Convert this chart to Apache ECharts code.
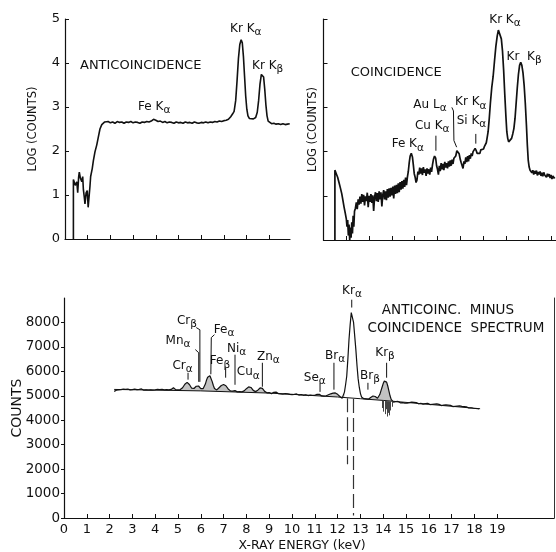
<!DOCTYPE html>
<html>
<head>
<meta charset="utf-8">
<script src="https://cdn.jsdelivr.net/npm/echarts@6/dist/echarts.min.js"></script>
<style>
html, body { margin: 0; padding: 0; background: #fff; }
#main { width: 556px; height: 552px; }
</style>
</head>
<body>
<div id="main"></div>
<script>
// top left: anticoincidence spectrum (channel units, log counts)
var antiU = [0.37, 0.37, 0.45, 0.52, 0.56, 0.60, 0.63, 0.68, 0.74, 0.78, 0.81, 0.85, 0.88, 0.93, 0.98, 1.02, 1.07, 1.10, 1.13, 1.20,
    1.25, 1.32, 1.40, 1.47, 1.54, 1.62, 1.69, 1.75,
    1.8, 1.9, 2.0, 2.1, 2.2, 2.3, 2.4, 2.5, 2.6, 2.7, 2.8, 2.9, 3.0, 3.1, 3.2, 3.3, 3.4, 3.5, 3.6, 3.7, 3.8, 3.9,
    4.0, 4.1, 4.2, 4.3, 4.4, 4.5, 4.6, 4.7, 4.8, 4.9, 5.0, 5.1, 5.2, 5.3, 5.4, 5.5, 5.6, 5.7, 5.8, 5.9,
    6.0, 6.1, 6.2, 6.3, 6.4, 6.5, 6.6, 6.7, 6.8, 6.9, 7.0, 7.1, 7.2, 7.3,
    7.38, 7.45, 7.52, 7.58, 7.64, 7.70, 7.76, 7.81, 7.86, 7.91, 7.96, 8.01, 8.06, 8.12, 8.2, 8.3, 8.4,
    8.47, 8.53, 8.59, 8.65, 8.70, 8.75, 8.80, 8.85, 8.90, 8.95, 9.0, 9.1, 9.2, 9.3, 9.4, 9.5, 9.6, 9.7, 9.8, 9.9];
var antiLog = [0, 1.35, 1.22, 1.30, 1.05, 1.40, 1.52, 1.38, 1.30, 1.42, 1.12, 0.95, 0.80, 1.05, 1.10, 0.72, 0.75, 1.20, 1.42, 1.60,
    1.78, 1.98, 2.14, 2.32, 2.50, 2.60, 2.64, 2.66,
    2.63, 2.67, 2.64, 2.66, 2.63, 2.67, 2.65, 2.66, 2.63, 2.66, 2.65, 2.67, 2.64, 2.66, 2.65, 2.63, 2.66, 2.65, 2.67, 2.66, 2.68, 2.72,
    2.70, 2.67, 2.68, 2.65, 2.67, 2.64, 2.66, 2.65, 2.63, 2.66, 2.64, 2.65, 2.63, 2.66, 2.64, 2.65, 2.63, 2.66, 2.64, 2.63,
    2.65, 2.64, 2.66, 2.64, 2.66, 2.65, 2.67, 2.66, 2.68, 2.67, 2.69, 2.70, 2.72, 2.78,
    2.84, 2.90, 3.15, 3.60, 4.10, 4.42, 4.53, 4.46, 4.15, 3.70, 3.25, 2.95, 2.80, 2.74, 2.72, 2.73, 2.76,
    2.88, 3.15, 3.52, 3.74, 3.78, 3.68, 3.40, 3.05, 2.80, 2.68, 2.64, 2.62, 2.63, 2.61, 2.62, 2.60, 2.62, 2.60, 2.61, 2.62];

// top right: coincidence spectrum
var coinU = [0.50, 0.50, 0.56, 0.62, 0.68, 0.74, 0.80, 0.85, 0.90, 0.95, 1.00, 1.03, 1.06, 1.09, 1.12, 1.15, 1.18, 1.21, 1.24, 1.27,
    1.30, 1.33, 1.36, 1.40, 1.44, 1.48, 1.52, 1.56, 1.60, 1.64, 1.68, 1.72, 1.76, 1.80, 1.84, 1.88, 1.92, 1.96, 2.00, 2.04,
    2.08, 2.12, 2.16, 2.20, 2.24, 2.28, 2.32, 2.36, 2.40, 2.44, 2.48, 2.52, 2.56, 2.60, 2.64, 2.68, 2.72, 2.76, 2.80, 2.84,
    2.88, 2.92, 2.96, 3.00, 3.04, 3.08, 3.12, 3.16, 3.20, 3.24, 3.28, 3.32, 3.36, 3.40, 3.44, 3.48, 3.52, 3.56, 3.60, 3.64,
    3.68, 3.72, 3.76, 3.80, 3.85, 3.90, 3.94, 3.98, 4.02, 4.06, 4.10, 4.14, 4.18, 4.22, 4.26, 4.30, 4.34, 4.38, 4.42, 4.46,
    4.50, 4.54, 4.58, 4.62, 4.66, 4.70, 4.74, 4.78, 4.82, 4.87, 4.92, 4.96, 5.00, 5.04, 5.08, 5.12, 5.16, 5.20, 5.24, 5.28,
    5.32, 5.36, 5.40, 5.44, 5.48, 5.52, 5.56, 5.60, 5.64, 5.68, 5.72, 5.76, 5.80, 5.85, 5.90, 5.95, 6.00, 6.04, 6.08, 6.12,
    6.16, 6.20, 6.24, 6.28, 6.32, 6.36, 6.40, 6.44, 6.48, 6.52, 6.56, 6.60, 6.65, 6.70, 6.74, 6.78, 6.82, 6.86, 6.90, 6.94,
    6.98, 7.02, 7.06, 7.10, 7.14, 7.18, 7.22, 7.27, 7.32, 7.38, 7.44, 7.50, 7.56, 7.62, 7.67, 7.71, 7.75, 7.80, 7.85, 7.90,
    7.95, 8.00, 8.04, 8.08, 8.12, 8.16, 8.20, 8.25, 8.30, 8.35, 8.40, 8.45, 8.50, 8.55, 8.60, 8.65, 8.70, 8.75, 8.80, 8.85,
    8.90, 8.94, 8.98, 9.02, 9.06, 9.10, 9.14, 9.18, 9.22, 9.26, 9.30, 9.34, 9.38, 9.42, 9.46, 9.50, 9.54, 9.58, 9.62, 9.66,
    9.70, 9.74, 9.78, 9.82, 9.86, 9.90, 9.94, 9.98, 10.02, 10.06, 10.10, 10.15];
var coinLog = [0.0, 1.58, 1.50, 1.42, 1.30, 1.18, 1.05, 0.90, 0.75, 0.62, 0.48, 0.30, 0.45, 0.10, 0.35, 0.00, 0.28, 0.05, 0.40, 0.15,
    0.55, 0.30, 0.65, 0.72, 0.85, 0.70, 0.92, 0.80, 0.98, 0.82, 1.04, 0.86, 1.02, 0.78, 0.99, 0.88, 1.07, 0.74, 1.00, 0.86,
    1.04, 0.84, 1.01, 0.66, 0.97, 1.08, 0.88, 1.06, 0.86, 1.10, 0.92, 1.08, 0.76, 1.02, 1.13, 0.92, 1.10, 0.90, 1.15, 0.96,
    1.17, 0.98, 1.18, 1.01, 1.21, 0.94, 1.23, 1.04, 1.25, 1.06, 1.28, 1.08, 1.31, 1.14, 1.33, 1.16, 1.36, 1.20, 1.41, 1.24,
    1.42, 1.55, 1.75, 1.90, 1.96, 1.88, 1.70, 1.50, 1.42, 1.30, 1.36, 1.55, 1.48, 1.64, 1.50, 1.62, 1.47, 1.65, 1.52, 1.60,
    1.45, 1.62, 1.50, 1.60, 1.48, 1.64, 1.54, 1.70, 1.82, 1.90, 1.85, 1.68, 1.60, 1.48, 1.68, 1.56, 1.74, 1.60, 1.72, 1.58,
    1.77, 1.64, 1.74, 1.62, 1.78, 1.66, 1.80, 1.68, 1.82, 1.72, 1.85, 1.82, 1.90, 2.02, 2.05, 1.95, 1.82, 1.75, 1.72, 1.62,
    1.78, 1.72, 1.87, 1.76, 1.90, 1.78, 1.92, 1.84, 1.96, 1.90, 2.00, 2.04, 2.07, 2.02, 1.96, 1.92, 1.99, 1.96, 2.04, 2.00,
    2.08, 2.06, 2.12, 2.15, 2.20, 2.32, 2.45, 2.75, 3.10, 3.45, 3.70, 4.05, 4.38, 4.62, 4.75, 4.78, 4.72, 4.55, 4.28, 3.85,
    3.30, 2.80, 2.45, 2.30, 2.22, 2.21, 2.24, 2.30, 2.40, 2.52, 2.75, 3.10, 3.45, 3.75, 3.95, 4.02, 3.95, 3.78, 3.50, 3.10,
    2.60, 2.15, 1.80, 1.65, 1.58, 1.62, 1.52, 1.58, 1.48, 1.56, 1.50, 1.57, 1.46, 1.54, 1.48, 1.55, 1.45, 1.52, 1.44, 1.53,
    1.47, 1.50, 1.42, 1.50, 1.44, 1.49, 1.40, 1.47, 1.38, 1.45, 1.40, 1.42];

// bottom: difference spectrum, channels of 0.05 keV starting at 2.20 keV
var specStart = 2.2;
var specStep = 0.05;
var specCounts = [
    5180, 5150, 5230, 5260, 5240, 5280, 5250, 5230, 5270, 5245, 5260, 5230, 5275, 5250, 5240, 5265,
    5250, 5230, 5270, 5240, 5255, 5225, 5265, 5245, 5280, 5250, 5230, 5260, 5240, 5275, 5235, 5255, 5245, 5270, 5230, 5260,
    5240, 5215, 5260, 5230, 5250, 5220, 5265, 5235, 5245, 5225, 5255, 5270, 5240, 5230, 5260, 5300, 5330, 5290, 5250, 5230,
    5240, 5220, 5255, 5280, 5330, 5400, 5470, 5530, 5550, 5520, 5460, 5380, 5310, 5270, 5300, 5340, 5390, 5420, 5400, 5360,
    5290, 5270, 5290, 5360, 5480, 5640, 5760, 5810, 5820, 5740, 5580, 5420, 5300, 5250, 5240, 5280, 5330, 5380, 5420, 5445,
    5460, 5450, 5410, 5340, 5280, 5230, 5200, 5180, 5190, 5230, 5210, 5180, 5160, 5200, 5170, 5190, 5160, 5180, 5200, 5240,
    5290, 5340, 5365, 5370, 5340, 5280, 5220, 5190, 5170, 5190, 5230, 5280, 5320, 5330, 5300, 5240, 5180, 5140, 5120, 5150,
    5130, 5100, 5080, 5110, 5140, 5170, 5150, 5120, 5090, 5060, 5080, 5050, 5070, 5110, 5090, 5060, 5080, 5040, 5060, 5070,
    5050, 5080, 5060, 5040, 5075, 5055, 5030, 5065, 5045, 5070, 5020, 5050, 5035, 5060, 5010, 5040, 5025, 5050, 5015, 5030,
    5020, 5040, 5060, 5075, 5060, 5030, 4995, 5010, 4985, 5000, 5000, 5020, 5040, 5060, 5080, 5100, 5110, 5120, 5115, 5090,
    5060, 5010, 4970, 4940, 4900, 4950, 5150, 5450, 5800, 6500, 7300, 7900, 8400, 8450, 8000, 7450, 6900, 6250, 5700, 5350,
    5100, 4950, 4900, 4880, 4910, 4870, 4890, 4860, 4900, 4930, 4960, 4990, 5000, 4970, 4920, 4900, 4950, 5050, 5200, 5350,
    5500, 5600, 5650, 5560, 5400, 5200, 5000, 4850, 4780, 4740, 4790, 4760, 4730, 4770, 4740, 4710, 4750, 4720, 4740, 4700,
    4730, 4700, 4750, 4720, 4690, 4740, 4710, 4730, 4680, 4720, 4700, 4670, 4710, 4690, 4720, 4660, 4700, 4680, 4650, 4690,
    4670, 4640, 4680, 4650, 4620, 4660, 4630, 4670, 4610, 4650, 4630, 4600, 4640, 4620, 4590, 4630, 4600, 4620, 4580, 4610,
    4590, 4560, 4600, 4570, 4540, 4580, 4550, 4590, 4530, 4570, 4540, 4560, 4510, 4550, 4530, 4500, 4540, 4510, 4530, 4490,
    4520, 4480, 4500, 4470, 4460];

// fitted background under the difference spectrum
var bgE = [2.2, 6, 9, 10, 12, 13, 14, 16, 18.25];
var bgCounts = [5260, 5200, 5110, 5060, 4950, 4880, 4810, 4650, 4470];
// energy ranges whose peaks are shaded
var shadeRanges = [[4.7, 9.0], [10.95, 12.3], [13.2, 14.45]];

// negative excursions of the subtraction
var krAlphaResE = [12.42, 12.70];
var krAlphaResTop = [4900, 4870];
var krAlphaResLow = [2200, 100];
var krBetaResE = [13.96, 14.02, 14.07, 14.12, 14.17, 14.22, 14.27, 14.32, 14.38];
var krBetaResTop = [4790, 4790, 4785, 4785, 4780, 4780, 4775, 4775, 4770];
var krBetaResLow = [4500, 4350, 4250, 4450, 4150, 4300, 4200, 4400, 4550];

var topTicksLeft = [1, 2, 3, 4, 5, 6, 7, 8, 9];
var topTicksRight = [1, 2, 3, 4, 5, 6, 7, 8, 9, 10];
var logTicks = [0, 1, 2, 3, 4, 5];
var keVTicks = [0, 1, 2, 3, 4, 5, 6, 7, 8, 9, 10, 11, 12, 13, 14, 15, 16, 17, 18, 19];
var countTicks = [0, 1000, 2000, 3000, 4000, 5000, 6000, 7000, 8000];

// labels: [x, y, text, subscript, align]
var antiLabels = [
    [0.66, 3.93, 'ANTICOINCIDENCE', '', 'left'],
    [3.22, 2.98, 'Fe K', 'α', 'left'],
    [7.27, 4.75, 'Kr K', 'α', 'left'],
    [8.24, 3.91, 'Kr K', 'β', 'left']
];
var coinLabels = [
    [7.27, 4.94, 'Kr K', 'α', 'left'],
    [8.03, 4.11, 'Kr  K', 'β', 'left'],
    [1.19, 3.78, 'COINCIDENCE', '', 'left'],
    [3.94, 3.03, 'Au L', 'α', 'left'],
    [5.77, 3.08, 'Kr K', 'α', 'left'],
    [5.84, 2.66, 'Si K', 'α', 'left'],
    [4.01, 2.55, 'Cu K', 'α', 'left'],
    [2.99, 2.13, 'Fe K', 'α', 'left']
];
var diffLabels = [
    [12.63, 9220, 'Kr', 'α', 'center'],
    [11.89, 6560, 'Br', 'α', 'center'],
    [11.0, 5660, 'Se', 'α', 'center'],
    [13.42, 5740, 'Br', 'β', 'center'],
    [14.08, 6680, 'Kr', 'β', 'center'],
    [5.39, 8000, 'Cr', 'β', 'center'],
    [5.0, 7170, 'Mn', 'α', 'center'],
    [7.02, 7640, 'Fe', 'α', 'center'],
    [6.84, 6350, 'Fe', 'β', 'center'],
    [7.57, 6860, 'Ni', 'α', 'center'],
    [8.08, 5900, 'Cu', 'α', 'center'],
    [8.96, 6520, 'Zn', 'α', 'center'],
    [5.2, 6180, 'Cr', 'α', 'center']
];
var diffTitle = [
    [16.84, 8480, 'ANTICOINC.  MINUS'],
    [17.19, 7750, 'COINCIDENCE  SPECTRUM']
];

// leader lines
var coinLeaders = [
    [[4.93, 2.36], [4.93, 2.02]],
    [[5.63, 3.0], [5.70, 2.92], [5.72, 2.25], [5.84, 2.10]],
    [[6.68, 2.40], [6.68, 2.18]]
];
var diffLeaders = [
    [[5.44, 5940], [5.44, 5660]],
    [[5.80, 7790], [5.96, 7700], [5.96, 5570]],
    [[5.76, 6890], [5.91, 6760], [5.91, 5570]],
    [[6.60, 7500], [6.46, 7380], [6.44, 5880]],
    [[7.09, 6150], [7.09, 5740]],
    [[7.5, 6680], [7.5, 5450]],
    [[8.7, 6350], [8.7, 5370]],
    [[11.23, 5530], [11.23, 5160]],
    [[11.84, 6350], [11.84, 5250]],
    [[13.33, 5530], [13.33, 5250]],
    [[14.15, 6350], [14.15, 5740]],
    [[12.62, 8930], [12.62, 8610]]
];

var FONT = 'DejaVu Sans';
var INK = '#111';

function zip(a, b) {
    return a.map(function (v, i) { return [v, b[i]]; });
}

var specData = specCounts.map(function (c, i) {
    return [+(specStart + i * specStep).toFixed(2), c];
});
var shadeData = specData.map(function (p) {
    var inside = shadeRanges.some(function (r) { return p[0] >= r[0] && p[0] <= r[1]; });
    return [p[0], inside ? p[1] : null];
});

function segs(list) {
    return list.map(function (pts) { return { coords: pts }; });
}
function drops(e, top, low) {
    return e.map(function (x, i) { return { coords: [[x, top[i]], [x, low[i]]] }; });
}

function xAxisCfg(gridIndex, max, ticks, labels) {
    return {
        type: 'value', gridIndex: gridIndex, min: 0, max: max,
        axisLine: { lineStyle: { color: INK, width: 1.2 } },
        axisTick: { inside: true, length: 4, customValues: ticks, lineStyle: { color: INK } },
        axisLabel: labels ? { customValues: ticks, color: INK, fontFamily: FONT, fontSize: 13, margin: 5 } : { show: false },
        splitLine: { show: false }
    };
}

var option = {
    animation: false,
    backgroundColor: '#fff',
    grid: [
        { left: 65, top: 19, width: 225, height: 220, outerBoundsMode: 'none' },
        { left: 323.5, top: 19, width: 232.5, height: 221, outerBoundsMode: 'none' },
        { left: 64, top: 298, width: 490, height: 220, outerBoundsMode: 'none' }
    ],
    xAxis: [
        xAxisCfg(0, 225 / 22.7, topTicksLeft, false),
        xAxisCfg(1, 232.5 / 22.8, topTicksRight, false),
        Object.assign(xAxisCfg(2, 490 / 22.8, keVTicks, true), {
            name: 'X-RAY ENERGY (keV)', nameLocation: 'middle', nameGap: 21,
            nameTextStyle: { color: INK, fontFamily: FONT, fontSize: 12.5, padding: [0, 14, 0, 0] }
        })
    ],
    yAxis: [
        {
            type: 'value', gridIndex: 0, min: 0, max: 5, interval: 1,
            name: 'LOG (COUNTS)', nameLocation: 'middle', nameGap: 26,
            nameTextStyle: { color: INK, fontFamily: FONT, fontSize: 11.5 },
            axisLine: { show: true, lineStyle: { color: INK, width: 1.2 } },
            axisTick: { show: true, inside: true, length: 4, customValues: logTicks, lineStyle: { color: INK } },
            axisLabel: { customValues: logTicks, color: INK, fontFamily: FONT, fontSize: 13, margin: 5 },
            splitLine: { show: false }
        },
        {
            type: 'value', gridIndex: 1, min: 0, max: 5, interval: 1,
            name: 'LOG (COUNTS)', nameLocation: 'middle', nameGap: 4,
            nameTextStyle: { color: INK, fontFamily: FONT, fontSize: 11.5 },
            axisLine: { show: true, lineStyle: { color: INK, width: 1.2 } },
            axisTick: { show: true, inside: true, length: 4, customValues: logTicks, lineStyle: { color: INK } },
            axisLabel: { show: false },
            splitLine: { show: false }
        },
        {
            type: 'value', gridIndex: 2, min: 0, max: 9000, interval: 1000,
            name: 'COUNTS', nameLocation: 'middle', nameGap: 40, nameMoveOverlap: false,
            nameTextStyle: { color: INK, fontFamily: FONT, fontSize: 14 },
            axisLine: { show: true, lineStyle: { color: INK, width: 1.2 } },
            axisTick: { show: true, length: 3, customValues: countTicks, lineStyle: { color: INK } },
            axisLabel: {
                customValues: countTicks, color: INK, fontFamily: FONT, fontSize: 13.5, margin: 4,
                formatter: function (v) { return String(v); }
            },
            splitLine: { show: false }
        },
        {
            // right-hand frame edge of the lower panel
            type: 'value', gridIndex: 2, position: 'right', min: 0, max: 9000,
            axisLine: { show: true, lineStyle: { color: '#333', width: 1 } },
            axisTick: { show: false }, axisLabel: { show: false }, splitLine: { show: false }
        }
    ],
    series: [
        {
            type: 'line', xAxisIndex: 0, yAxisIndex: 0, data: zip(antiU, antiLog),
            showSymbol: false, lineStyle: { color: INK, width: 1.6 }
        },
        {
            type: 'line', xAxisIndex: 1, yAxisIndex: 1, data: zip(coinU, coinLog),
            showSymbol: false, lineStyle: { color: INK, width: 1.7 }
        },
        {
            type: 'lines', coordinateSystem: 'cartesian2d', xAxisIndex: 1, yAxisIndex: 1,
            polyline: true, data: segs(coinLeaders), lineStyle: { color: INK, width: 1, opacity: 1 }
        },
        {
            type: 'line', xAxisIndex: 2, yAxisIndex: 2, data: shadeData, z: 2,
            showSymbol: false, connectNulls: false, lineStyle: { width: 0 },
            areaStyle: { color: '#c2c2c2', opacity: 1, origin: 4300 }
        },
        {
            type: 'line', xAxisIndex: 2, yAxisIndex: 2, data: zip(bgE, bgCounts), z: 3,
            showSymbol: false, lineStyle: { color: INK, width: 1 },
            areaStyle: { color: '#fff', opacity: 1, origin: 4000 }
        },
        {
            type: 'line', xAxisIndex: 2, yAxisIndex: 2, data: specData, z: 4,
            showSymbol: false, lineStyle: { color: INK, width: 1.2 }
        },
        {
            type: 'lines', coordinateSystem: 'cartesian2d', xAxisIndex: 2, yAxisIndex: 2, z: 5,
            data: drops(krAlphaResE, krAlphaResTop, krAlphaResLow),
            lineStyle: { color: '#333', width: 1.2, type: [14, 5], opacity: 1 }
        },
        {
            type: 'lines', coordinateSystem: 'cartesian2d', xAxisIndex: 2, yAxisIndex: 2, z: 5,
            data: drops(krBetaResE, krBetaResTop, krBetaResLow),
            lineStyle: { color: '#444', width: 1, opacity: 1 }
        },
        {
            type: 'lines', coordinateSystem: 'cartesian2d', xAxisIndex: 2, yAxisIndex: 2, z: 5,
            polyline: true, data: segs(diffLeaders), lineStyle: { color: INK, width: 1, opacity: 1 }
        }
    ]
};

var chart = echarts.init(document.getElementById('main'), null, { renderer: 'canvas' });
chart.setOption(option);

// text annotations anchored in data coordinates
function richFor(size) {
    return {
        n: { fontFamily: FONT, fontSize: size, fill: INK, lineHeight: 14, verticalAlign: 'top' },
        s: { fontFamily: FONT, fontSize: size - 1.5, fill: INK, lineHeight: 15, verticalAlign: 'bottom' }
    };
}
var graphics = [];
function addLabels(gridIndex, list, size) {
    list.forEach(function (l) {
        var p = chart.convertToPixel({ gridIndex: gridIndex }, [l[0], l[1]]);
        graphics.push({
            type: 'text', x: p[0], y: p[1], silent: true,
            style: {
                text: l[3] ? '{n|' + l[2] + '}{s|' + l[3] + '}' : '{n|' + l[2] + '}',
                rich: richFor(size), align: l[4] || 'center', verticalAlign: 'middle'
            }
        });
    });
}
addLabels(0, antiLabels.slice(0, 1), 13);
addLabels(0, antiLabels.slice(1), 12);
addLabels(1, coinLabels.slice(2, 3), 13);
addLabels(1, coinLabels.slice(0, 2).concat(coinLabels.slice(3)), 12);
addLabels(2, diffLabels, 12);
addLabels(2, diffTitle, 13.5);
chart.setOption({ graphic: graphics });
</script>
</body>
</html>
